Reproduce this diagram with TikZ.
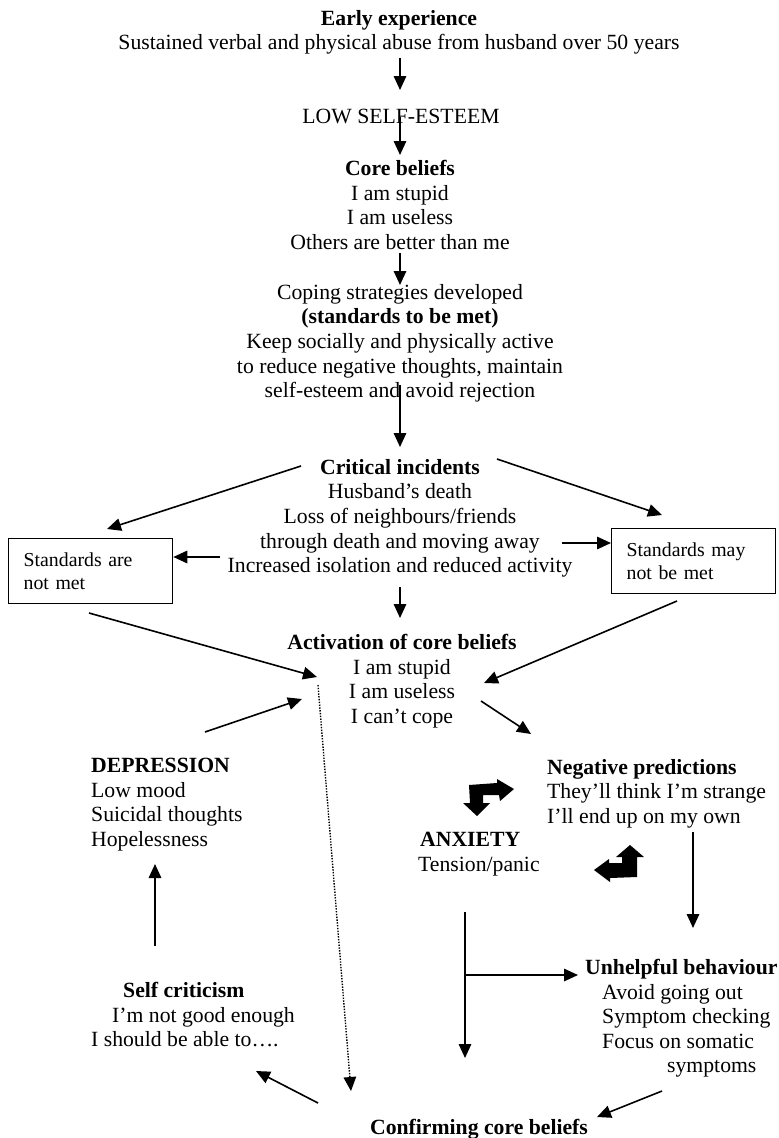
\documentclass[tikz,border=0pt]{standalone}
\usepackage{fontspec}
\setmainfont{Liberation Serif}
\usetikzlibrary{arrows.meta}
\tikzset{
  txt/.style={font=\fontsize{21.7}{24.6}\selectfont, inner sep=0pt, anchor=north, align=center},
  ltxt/.style={txt, anchor=north west, align=left},
  stdbox/.style={draw, line width=1.3pt, font=\fontsize{19.8}{23}\selectfont, anchor=north west,
    text width=134pt, inner xsep=15pt, inner ysep=0pt, minimum height=65pt, align=left},
  arr/.style={line width=1.6pt, -{Triangle[length=14pt,width=12.5pt]}},
  dotarr/.style={line width=1.4pt, dash pattern=on 1.4pt off 1.4pt, -{Triangle[length=14pt,width=12.5pt]}},
  bent/.style={fill=black}
}
\begin{document}
\begin{tikzpicture}[x=1pt,y=-1pt]
\useasboundingbox (0,0) rectangle (779,1138);

% text blocks
\node[txt] (early) at (399,10) {\textbf{Early experience}\\Sustained verbal and physical abuse from husband over 50 years};
\node[txt] (low) at (401,109) {LOW SELF-ESTEEM};
\node[txt] (core) at (400,160) {\textbf{Core beliefs}\\I am stupid\\I am useless\\Others are better than me};
\node[txt] (coping) at (400,284) {Coping strategies developed\\\textbf{(standards to be met)}\\Keep socially and physically active\\to reduce negative thoughts, maintain\\self-esteem and avoid rejection};
\node[txt] (crit) at (400,459) {\textbf{Critical incidents}\\Husband’s death\\Loss of neighbours/friends\\through death and moving away\\Increased isolation and reduced activity};
\node[txt] (act) at (402,634) {\textbf{Activation of core beliefs}\\I am stupid\\I am useless\\I can’t cope};
\node[ltxt] (dep) at (91,758) {\textbf{DEPRESSION}\\Low mood\\Suicidal thoughts\\Hopelessness};
\node[ltxt] (neg) at (547,759) {\textbf{Negative predictions}\\They’ll think I’m strange\\I’ll end up on my own};
\node[ltxt] (anx) at (418,832) {\hspace*{2pt}\textbf{ANXIETY}\\Tension/panic};
\node[ltxt] (unh) at (585,959) {\textbf{Unhelpful behaviour}\\\hspace*{17pt}Avoid going out\\\hspace*{17pt}Symptom checking\\\hspace*{17pt}Focus on somatic\\\hspace*{82pt}symptoms};
\node[ltxt] (selfc) at (91,982) {\hspace*{32pt}\textbf{Self criticism}\\\hspace*{21pt}I’m not good enough\\I should be able to….};
\node[txt] (conf) at (479,1119) {\textbf{Confirming core beliefs}};

% boxes
\node[stdbox] (boxL) at (8,538) {Standards are\\not met};
\node[stdbox] (boxR) at (611,528) {Standards may\\not be met};

% arrow end points
\coordinate (a1s) at (400,58);   \coordinate (a1e) at (400,90);
\coordinate (a2s) at (400,117);  \coordinate (a2e) at (400,155);
\coordinate (a3s) at (400,253);  \coordinate (a3e) at (400,285);
\coordinate (a4s) at (400,385);  \coordinate (a4e) at (400,447);
\coordinate (a5s) at (301,466);  \coordinate (a5e) at (107,529);
\coordinate (a6s) at (497,459);  \coordinate (a6e) at (662,515);
\coordinate (a7s) at (220,557);
\coordinate (a8s) at (562,543);
\coordinate (a9s) at (400,587);  \coordinate (a9e) at (400,618);
\coordinate (a10s) at (89,613);  \coordinate (a10e) at (317,677);
\coordinate (a11s) at (677,601); \coordinate (a11e) at (484,683);
\coordinate (a12s) at (205,732); \coordinate (a12e) at (302,699);
\coordinate (a13s) at (481,701); \coordinate (a13e) at (531,734);
\coordinate (a14s) at (318,685); \coordinate (a14e) at (351,1091);
\coordinate (a15s) at (155,946); \coordinate (a15e) at (155,864);
\coordinate (a16s) at (693,832); \coordinate (a16e) at (693,928);
\coordinate (a17s) at (465,912); \coordinate (a17e) at (465,1058);
\coordinate (a17b) at (465,975); \coordinate (a17c) at (578,975);
\coordinate (a18s) at (318,1103); \coordinate (a18e) at (256,1071);
\coordinate (a19s) at (662,1091); \coordinate (a19e) at (597,1117);

% arrows
\draw[arr] (a1s) -- (a1e);
\draw[arr] (a2s) -- (a2e);
\draw[arr] (a3s) -- (a3e);
\draw[arr] (a4s) -- (a4e);
\draw[arr] (a5s) -- (a5e);
\draw[arr] (a6s) -- (a6e);
\draw[arr] (a7s) -- (boxL.east |- a7s);
\draw[arr] (a8s) -- (boxR.west |- a8s);
\draw[arr] (a9s) -- (a9e);
\draw[arr] (a10s) -- (a10e);
\draw[arr] (a11s) -- (a11e);
\draw[arr] (a12s) -- (a12e);
\draw[arr] (a13s) -- (a13e);
\draw[dotarr] (a14s) -- (a14e);
\draw[arr] (a15s) -- (a15e);
\draw[arr] (a16s) -- (a16e);
\draw[arr] (a17s) -- (a17e);
\draw[arr] (a17b) -- (a17c);
\draw[arr] (a18s) -- (a18e);
\draw[arr] (a19s) -- (a19e);

% bent block arrows
\fill[bent] (477,816) -- (490,803) -- (483,803) -- (483,795) -- (499,795) -- (500,801)
  -- (514,789) -- (497,779) -- (497,783) -- (469,785) -- (470,803) -- (463,803) -- cycle;
\fill[bent] (630,845) -- (644,857) -- (637,857) -- (637,877) -- (610,878) -- (610,882)
  -- (594,870) -- (609,859) -- (609,863) -- (622,863) -- (622,857) -- (616,857) -- cycle;
\end{tikzpicture}
\end{document}
